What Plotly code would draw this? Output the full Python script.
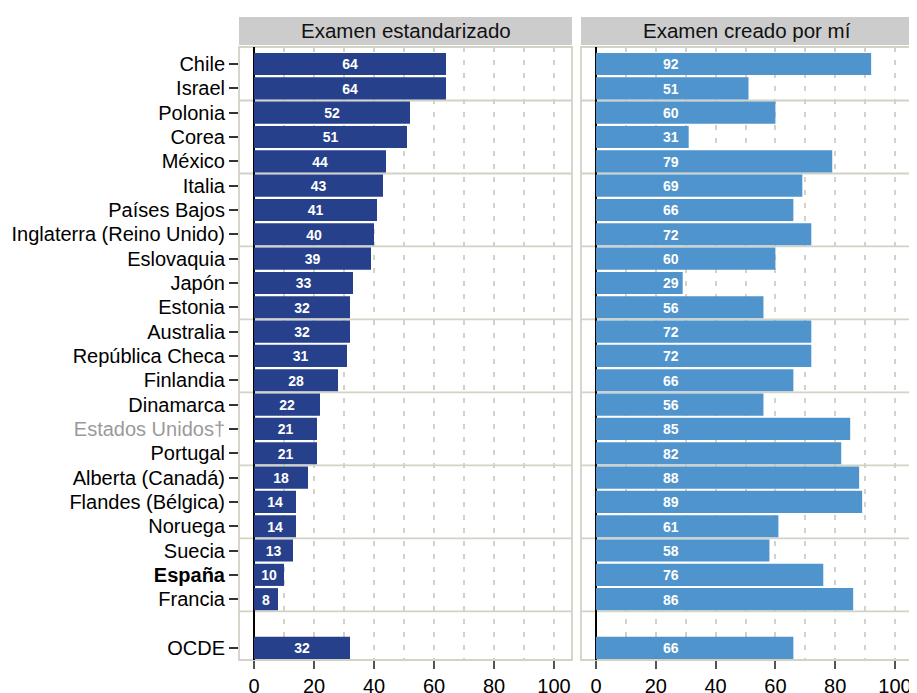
import plotly.graph_objects as go

countries = ["Chile", "Israel", "Polonia", "Corea", "México", "Italia", "Países Bajos",
             "Inglaterra (Reino Unido)", "Eslovaquia", "Japón", "Estonia", "Australia",
             "República Checa", "Finlandia", "Dinamarca", "Estados Unidos†", "Portugal",
             "Alberta (Canadá)", "Flandes (Bélgica)", "Noruega", "Suecia", "España", "Francia"]
standardized = [64, 64, 52, 51, 44, 43, 41, 40, 39, 33, 32, 32, 31, 28, 22, 21, 21, 18, 14, 14, 13, 10, 8]
own_exam = [92, 51, 60, 31, 79, 69, 66, 72, 60, 29, 56, 72, 72, 66, 56, 85, 82, 88, 89, 61, 58, 76, 86]
oecd_label = "OCDE"
oecd_standardized = 32
oecd_own = 66
panel_titles = ["Examen estandarizado", "Examen creado por mí"]
x_ticks = [0, 20, 40, 60, 80, 100]

# row positions: countries then an empty row then OCDE
ypos = list(range(len(countries))) + [len(countries) + 1]
labels = countries + [oecd_label]
left_vals = standardized + [oecd_standardized]
right_vals = own_exam + [oecd_own]

def fmt_label(s):
    if s == "España":
        return "<b>España</b>"
    if s == "Estados Unidos†":
        return "<span style='color:#9a9a9a'>Estados Unidos†</span>"
    return s

ticktext = [fmt_label(s) for s in labels]

dark = "#27408B"
light = "#4F94CD"
gridc = "#d2d2c6"
font_fam = "Liberation Sans, Arial, sans-serif"

fig = go.Figure()
fig.add_trace(go.Bar(x=left_vals, y=ypos, orientation="h", marker=dict(color=dark, line=dict(width=0)),
                     xaxis="x", yaxis="y", showlegend=False, hoverinfo="x+y"))
fig.add_trace(go.Bar(x=right_vals, y=ypos, orientation="h", marker=dict(color=light, line=dict(width=0)),
                     xaxis="x2", yaxis="y2", showlegend=False, hoverinfo="x+y"))
fig.add_trace(go.Scatter(x=[v / 2 for v in left_vals], y=[p + 0.08 for p in ypos], mode="text",
                         text=[str(v) for v in left_vals], textposition="middle center",
                         textfont=dict(color="white", size=14, family=font_fam, weight="bold"),
                         xaxis="x", yaxis="y", showlegend=False, hoverinfo="skip"))
fig.add_trace(go.Scatter(x=[25] * len(right_vals), y=[p + 0.08 for p in ypos], mode="text",
                         text=[str(v) for v in right_vals], textposition="middle center",
                         textfont=dict(color="white", size=14, family=font_fam, weight="bold"),
                         xaxis="x2", yaxis="y2", showlegend=False, hoverinfo="skip"))

# the page body adds an 8px margin, so the figure is sized/offset to fit the 917x693 window
off = 8
W, H = 917 - off, 693 - off
ml, mr, mt, mb = 239 - off, 4, 47 - off, 33
pw = W - ml - mr
ph = H - mt - mb
d1 = [0, (572 - 239) / pw]
d2 = [(581 - 239) / pw, 1]

xcommon = dict(range=[-5, 106], tickvals=x_ticks, ticks="outside", ticklen=8, tickwidth=1.5,
               tickcolor="#555555", showgrid=True, gridcolor=gridc, griddash="5px,8px", gridwidth=1.5,
               minor=dict(dtick=10, showgrid=True, gridcolor=gridc, griddash="5px,8px", gridwidth=1.5),
               zeroline=True, zerolinecolor="black", zerolinewidth=2,
               tickfont=dict(size=20, color="black", family=font_fam),
               showline=False, fixedrange=True, automargin=False)
ycommon = dict(range=[len(countries) + 1.5, -0.7], showgrid=False, zeroline=False, fixedrange=True,
               automargin=False)

fig.update_layout(
    width=W, height=H,
    margin=dict(l=ml, r=mr, t=mt, b=mb, autoexpand=False),
    plot_bgcolor="white", paper_bgcolor="white",
    bargap=0.09,
    xaxis=dict(domain=d1, anchor="y", **xcommon),
    xaxis2=dict(domain=d2, anchor="y2", **xcommon),
    yaxis=dict(domain=[0, 1], anchor="x", tickvals=ypos, ticktext=ticktext, ticks="outside",
               ticklen=9, tickwidth=1.5, tickcolor="#333333",
               tickfont=dict(size=20, color="black", family=font_fam), **ycommon),
    yaxis2=dict(domain=[0, 1], anchor="x2", showticklabels=False, **ycommon),
)

shapes = []
seps = [1.5 + 3 * k for k in range(8)]
hdr_bot = (H - mb - (45 - off)) / ph
hdr_top = (H - mb - (17 - off)) / ph
hdr_mid = (H - mb - (31 - off)) / ph
for xr in ["x", "x2"]:
    xd = xr + " domain"
    yr = "y" if xr == "x" else "y2"
    for s in seps:
        shapes.append(dict(type="line", xref=xd, yref=yr, x0=0, x1=1, y0=s, y1=s,
                           line=dict(color=gridc, width=1.8), layer="below"))
    shapes.append(dict(type="rect", xref=xd, yref="paper", x0=0, x1=1, y0=0, y1=1,
                       line=dict(color=gridc, width=1.8), layer="below"))
    shapes.append(dict(type="rect", xref=xd, yref="paper", x0=0, x1=1, y0=hdr_bot, y1=hdr_top,
                       fillcolor="#cccccc", line=dict(width=0), layer="above"))
fig.update_layout(shapes=shapes)

ann = []
for i, xr in enumerate(["x", "x2"]):
    ann.append(dict(text=panel_titles[i], xref=xr + " domain", yref="paper", x=0.5,
                    y=hdr_mid, showarrow=False, xanchor="center", yanchor="middle",
                    font=dict(size=20.5, color="#111111", family=font_fam)))
fig.update_layout(annotations=ann)

fig.write_html("out.html")
